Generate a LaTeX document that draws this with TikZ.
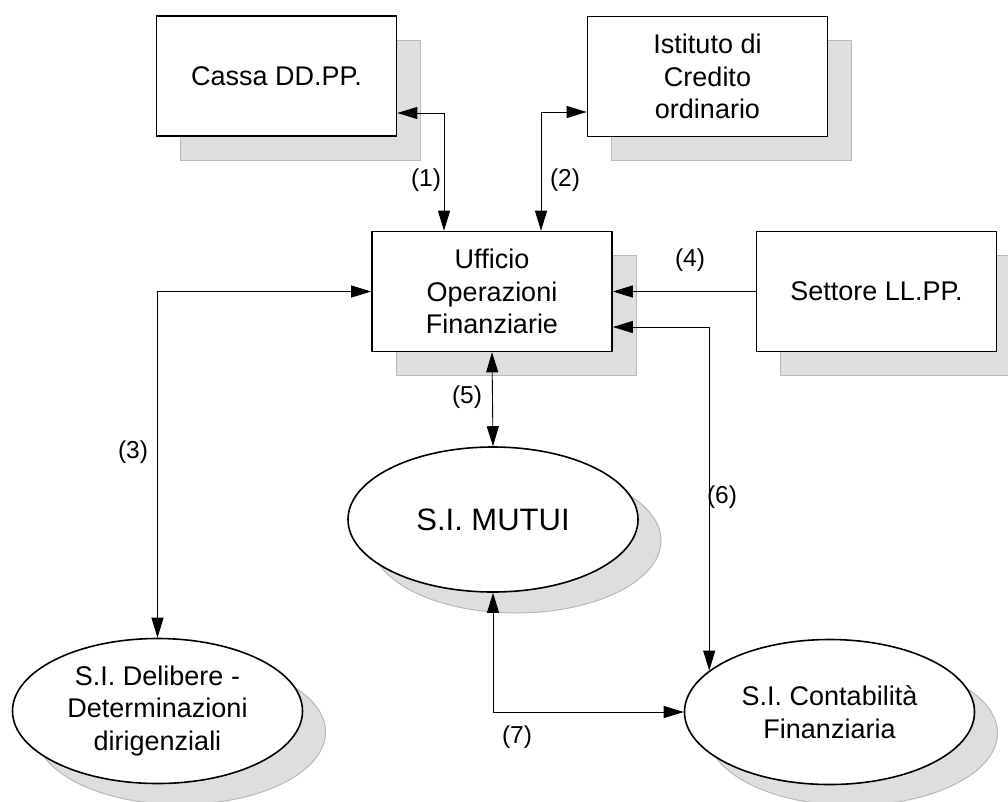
\documentclass[tikz,border=0pt]{standalone}
\usepackage{fontspec}
\setmainfont{Liberation Sans}
\usetikzlibrary{arrows.meta,shapes.geometric}
\tikzset{
  box/.style={draw=black, line width=1.6pt, fill=white, minimum width=240pt, minimum height=120pt, inner sep=0pt, align=center, font=\fontsize{27}{32.5}\selectfont},
  boxshadow/.style={draw=black!28, line width=1pt, fill=black!13, minimum width=240pt, minimum height=120pt, inner sep=0pt},
  oval/.style={ellipse, draw=black, line width=1.6pt, fill=white, minimum width=290pt, minimum height=145pt, inner sep=0pt, align=center, font=\fontsize{27}{32.5}\selectfont},
  ovalshadow/.style={ellipse, draw=black!28, line width=1pt, fill=black!13, minimum width=290pt, minimum height=145pt, inner sep=0pt},
  conn/.style={line width=0.9pt, -{Triangle[length=20pt,width=12pt]}},
  dconn/.style={line width=0.9pt, {Triangle[length=20pt,width=12pt]}-{Triangle[length=20pt,width=12pt]}},
  lab/.style={font=\fontsize{24.5}{28}\selectfont, inner sep=0pt}
}
\begin{document}
\begin{tikzpicture}[x=1pt,y=-1pt]
\useasboundingbox (0,0) rectangle (1008,801);
% shadows
\node[boxshadow] (cassaS) at (300.5,100) {};
\node[boxshadow] (istS) at (731.5,100.5) {};
\node[boxshadow] (uffS) at (516,315.5) {};
\node[boxshadow] (setS) at (900.5,315.5) {};
\node[ovalshadow] (mutS) at (516,540.5) {};
\node[ovalshadow] (delS) at (180.5,732) {};
\node[ovalshadow] (conS) at (852.5,733) {};
% nodes
\node[box] (cassa) at (276.5,76) {Cassa DD.PP.};
\node[box] (ist) at (707.5,76.5) {Istituto di\\Credito\\ordinario};
\node[box] (uff) at (492,291.5) {Ufficio\\Operazioni\\Finanziarie};
\node[box] (set) at (876.5,291.5) {Settore LL.PP.};
\node[oval, font=\fontsize{31}{36}\selectfont] (mut) at (493,519.5) {S.I. MUTUI};
\node[oval] (del) at (157.5,711) {S.I. Delibere -\\Determinazioni\\dirigenziali};
\node[oval] (con) at (829.5,712) {S.I. Contabilità\\Finanziaria};
% connectors
\draw[dconn] ([yshift=-37pt]cassa.east) -| ([xshift=-48pt]uff.north);
\draw[dconn] ([yshift=-35.5pt]ist.west) -| ([xshift=49pt]uff.north);
\draw[dconn] (uff.west) -| (del.north);
\draw[conn] (set.west) -- (uff.east);
\draw[dconn] (uff.south) -- (mut.north);
\draw[dconn] ([yshift=-35.5pt]uff.east) -| (con.161.5);
\draw[dconn] (mut.south) |- (con.west);
% labels
\node[lab] (l1) at (426,180) {(1)};
\node[lab] (l2) at (565,180) {(2)};
\node[lab] (l3) at (133,452) {(3)};
\node[lab] (l4) at (690,260) {(4)};
\node[lab] (l5) at (467,397) {(5)};
\node[lab] (l6) at (722,497) {(6)};
\node[lab] (l7) at (517,737) {(7)};
\end{tikzpicture}
\end{document}
